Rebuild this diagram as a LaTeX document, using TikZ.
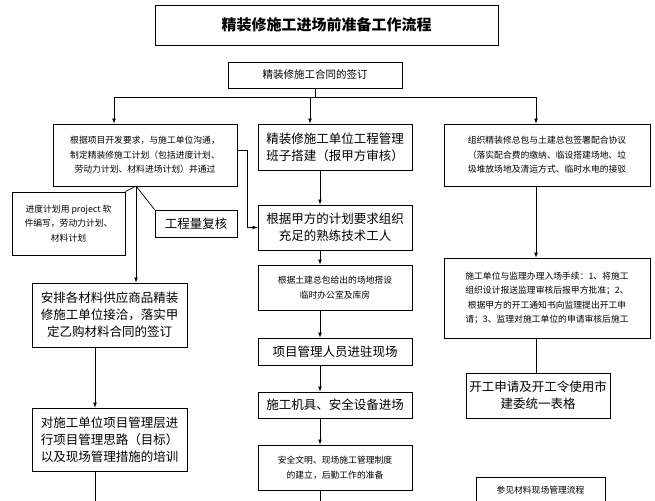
\documentclass[tikz,border=0pt]{standalone}
\usepackage{fontspec}
\setmainfont{Noto Sans CJK SC}
\usetikzlibrary{positioning}

\begin{document}
\begin{tikzpicture}[x=1pt, y=-1pt, thick,
    box/.style={draw, line width=0.9pt, align=center, inner sep=2pt},
    big/.style={font=\fontsize{12.5}{17}\selectfont},
    small/.style={font=\fontsize{8.8}{14.5}\selectfont},
    arr/.style={-latex, line width=0.7pt},
    ln/.style={line width=0.7pt}]
    \useasboundingbox (0,0) rectangle (655,500);
    % Title and contract
    \node[box, minimum width=343pt, minimum height=40pt, font=\fontsize{15}{18}\selectfont\bfseries] (title) at (326.5,25) {精装修施工进场前准备工作流程};
    \node[box, minimum width=174pt, minimum height=26pt, font=\fontsize{10.5}{13}\selectfont] (contract) at (315,75) {精装修施工合同的签订};

    % Three columns
    \node[box, small, minimum width=184pt, minimum height=62pt] (plan) at (145,155) {根据项目开发要求，与施工单位沟通，\\制定精装修施工计划（包括进度计划、\\劳动力计划、材料进场计划）并通过};
    \node[box, big, minimum width=154pt, minimum height=46pt] (team) at (335,147) {精装修施工单位工程管理\\班子搭建（报甲方审核）};
    \node[box, small, minimum width=206pt, minimum height=62pt] (agree) at (547,155) {组织精装修总包与土建总包签署配合协议\\（落实配合费的缴纳、临设搭建场地、垃\\圾堆放场地及清运方式、临时水电的接驳};

    % Left column
    \node[box, small, minimum width=113pt, minimum height=63pt] (soft) at (68.5,223.5) {进度计划用 project 软\\件编写，劳动力计划、\\材料计划};
    \node[box, big, minimum width=82pt, minimum height=27pt] (qty) at (196,223.5) {工程量复核};
    \node[box, big, minimum width=155pt, minimum height=64pt] (supply) at (109.5,315) {安排各材料供应商品精装\\修施工单位接洽，落实甲\\定乙购材料合同的签订};
    \node[box, big, minimum width=155pt, minimum height=63pt] (train) at (109.5,439.5) {对施工单位项目管理层进\\行项目管理思路（目标）\\以及现场管理措施的培训};

    % Middle column
    \node[box, big, minimum width=154pt, minimum height=45pt] (workers) at (335,227.5) {根据甲方的计划要求组织\\充足的熟练技术工人};
    \node[box, small, minimum width=154pt, minimum height=45pt] (office) at (335,287.5) {根据土建总包给出的场地搭设\\临时办公室及库房};
    \node[box, big, minimum width=154pt, minimum height=27pt] (staff) at (335,351.5) {项目管理人员进驻现场};
    \node[box, big, minimum width=154pt, minimum height=26pt] (tools) at (335,405) {施工机具、安全设备进场};
    \node[box, small, minimum width=154pt, minimum height=45pt] (rules) at (335,467.5) {安全文明、现场施工管理制度\\的建立，后勤工作的准备};

    % Right column
    \node[box, small, minimum width=206pt, minimum height=80pt] (permit) at (547,298) {施工单位与监理办理入场手续：1、将施工\\组织设计报送监理审核后报甲方批准；2、\\根据甲方的开工通知书向监理提出开工申\\请；3、监理对施工单位的申请审核后施工};
    \node[box, big, minimum width=144pt, minimum height=45pt] (form) at (538,395.5) {开工申请及开工令使用市\\建委统一表格};
    \node[box, small, minimum width=129pt, minimum height=26pt] (mat) at (540.5,490) {参见材料现场管理流程};

    % Connectors
    \coordinate (split) at (315,97);
    \draw[ln] (contract) -- (split);
    \draw[arr] (split) -| (plan.north -| 114,0);
    \draw[arr] (split) -| (team.north -| 310,0);
    \draw[arr] (split) -| (agree.north -| 536,0);
    \coordinate (tip) at (136,186);
    \draw[ln] (tip) -- (soft.north east);
    \draw[ln] (tip) -- (qty.north west);
    \draw[arr] (tip) -- (supply.north -| 136,0);
    \draw[arr] (plan.east |- 0,150) -- ++(10,0) |- (workers.west);
    \draw[arr] (supply.south -| 95,0) -- (train.north -| 95,0);
    \draw[ln] (train.south -| 95,0) -- ++(0,30);
    \draw[arr] (team.south -| 320,0) -- (workers.north -| 320,0);
    \draw[arr] (workers.south -| 320,0) -- (office.north -| 320,0);
    \draw[arr] (office.south -| 320,0) -- (staff.north -| 320,0);
    \draw[arr] (staff.south -| 320,0) -- (tools.north -| 320,0);
    \draw[arr] (tools.south -| 320,0) -- (rules.north -| 320,0);
    \draw[ln] (rules.south -| 320,0) -- ++(0,12);
    \draw[arr] (agree.south -| 536,0) -- (permit.north -| 536,0);
    \draw[ln] (permit.south -| 536,0) -- (form.north -| 536,0);
\end{tikzpicture}
\end{document}
